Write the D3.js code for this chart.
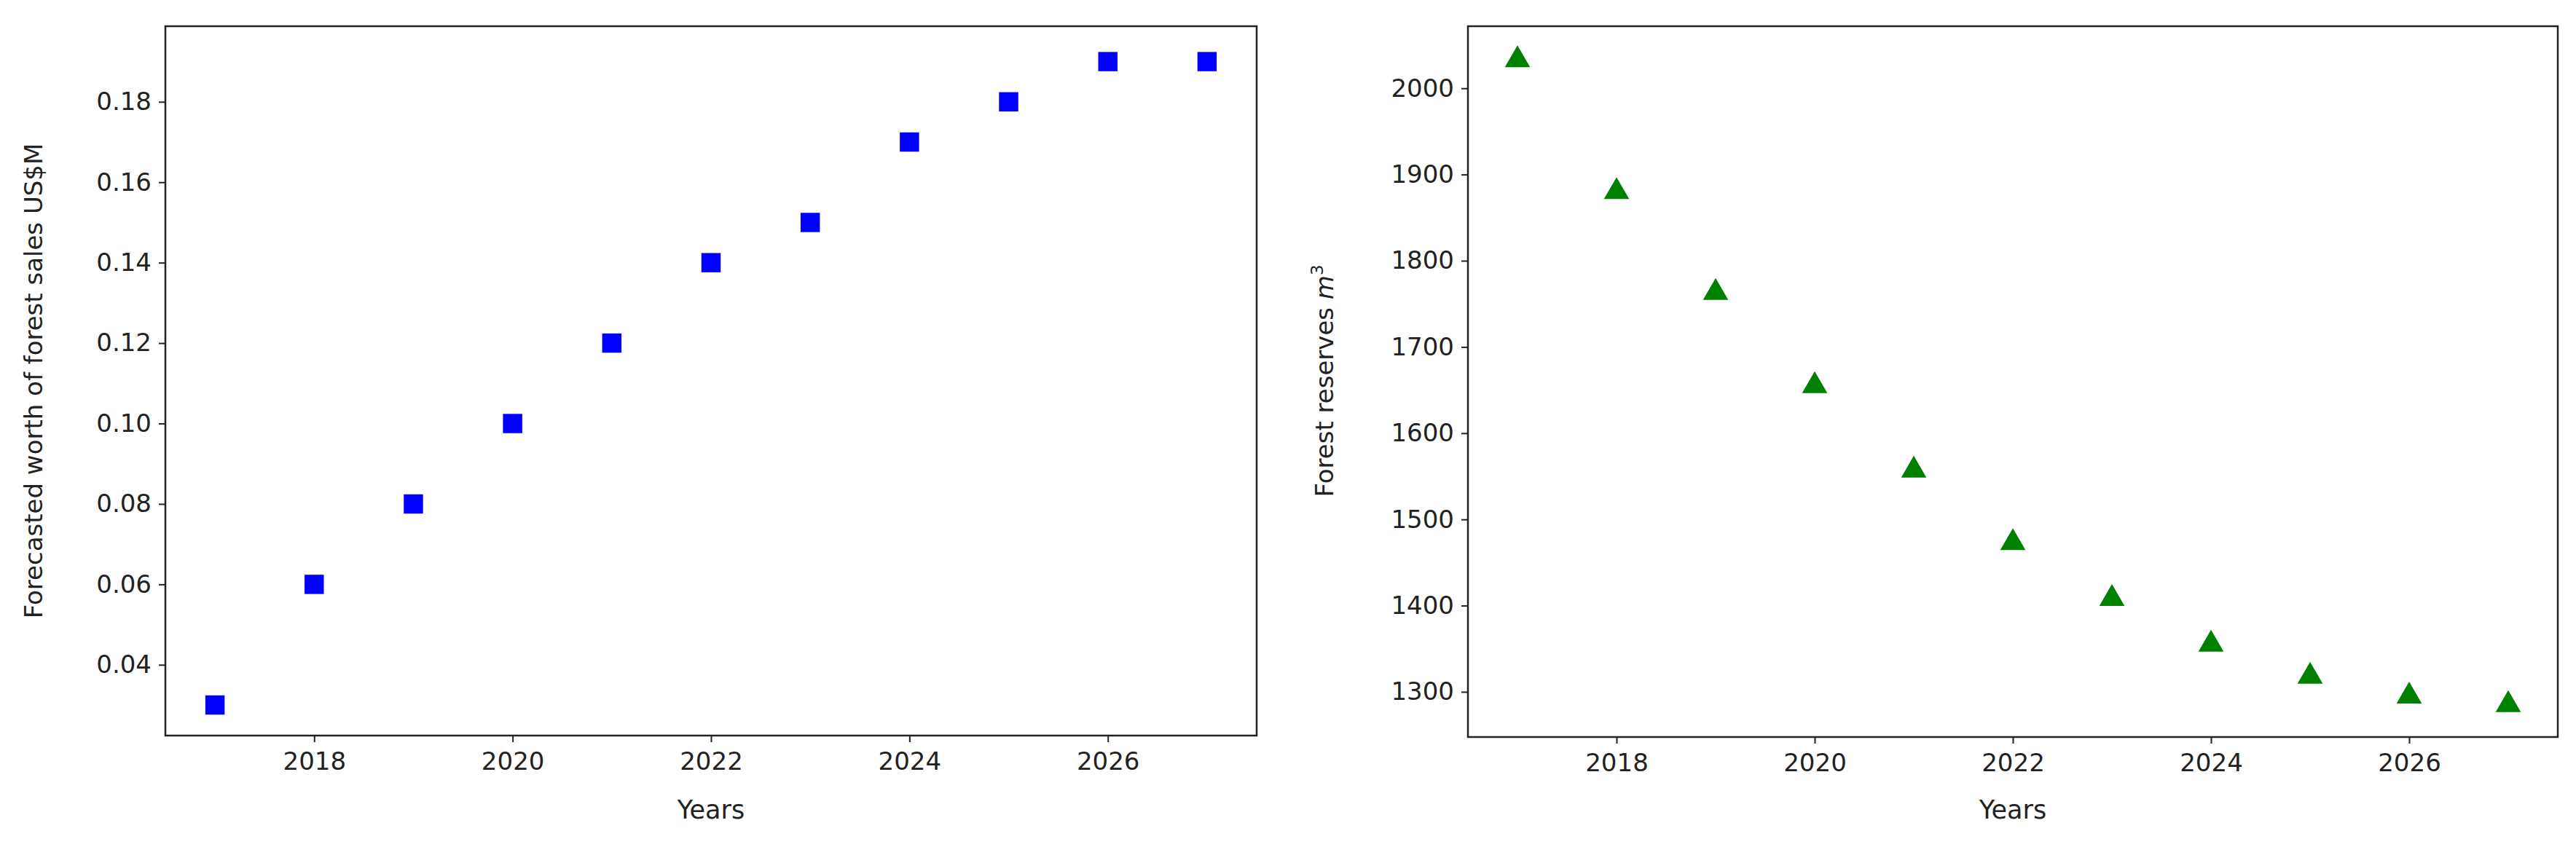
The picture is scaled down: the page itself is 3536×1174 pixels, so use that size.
<!DOCTYPE html>
<html><head><meta charset="utf-8">
<script src="https://cdn.jsdelivr.net/npm/d3@7"></script>
<style>body{margin:0;background:#fff}text{font-family:"DejaVu Sans",sans-serif}</style>
</head><body><div id="chart"></div>
<script>
const years = [2017, 2018, 2019, 2020, 2021, 2022, 2023, 2024, 2025, 2026, 2027];
const sales = [0.03, 0.06, 0.08, 0.10, 0.12, 0.14, 0.15, 0.17, 0.18, 0.19, 0.19];
const reserves = [2033, 1880, 1763, 1655, 1557, 1473, 1408, 1355, 1318, 1295, 1285];
const xTicks = [2018, 2020, 2022, 2024, 2026];
const salesTicks = [0.04, 0.06, 0.08, 0.10, 0.12, 0.14, 0.16, 0.18];
const reserveTicks = [1300, 1400, 1500, 1600, 1700, 1800, 1900, 2000];

const W = 3536, H = 1174;
const svg = d3.select("#chart").append("svg").attr("width", W).attr("height", H);

function panel(left, right, top, bottom, yDomain, yTicks, fmt, vals, marker, color) {
  const x = d3.scaleLinear().domain([2016.5, 2027.5]).range([left, right]);
  const y = d3.scaleLinear().domain(yDomain).range([bottom, top]);
  const g = svg.append("g");
  g.append("g").attr("transform", `translate(0,${bottom})`)
    .call(d3.axisBottom(x).tickValues(xTicks).tickFormat(d3.format("d")).tickSize(9).tickPadding(14));
  g.append("g").attr("transform", `translate(${left},0)`)
    .call(d3.axisLeft(y).tickValues(yTicks).tickFormat(fmt).tickSize(9).tickPadding(10));
  g.selectAll(".domain").remove();
  g.selectAll(".tick line").attr("stroke", "#222").attr("stroke-width", 2);
  g.selectAll(".tick text").attr("font-size", 34).attr("fill", "#222");
  g.append("rect").attr("x", left).attr("y", top).attr("width", right - left).attr("height", bottom - top)
    .attr("fill", "none").attr("stroke", "#222").attr("stroke-width", 2.5);
  g.selectAll("path.pt").data(vals).join("path").attr("class", "pt")
    .attr("transform", (d, i) => `translate(${x(years[i])},${y(d)})`)
    .attr("d", d3.symbol(marker, marker === d3.symbolSquare ? 700 : 520)())
    .attr("fill", color);
  g.append("text").attr("x", (left + right) / 2).attr("y", 1124).attr("text-anchor", "middle")
    .attr("font-size", 35).attr("fill", "#222").text("Years");
  return g;
}

const g1 = panel(227, 1725, 36, 1010, [0.0224, 0.1988], salesTicks, d3.format(".2f"), sales, d3.symbolSquare, "#0000ff");
g1.append("text").attr("transform", "translate(58,523) rotate(-90)").attr("text-anchor", "middle")
  .attr("font-size", 34).attr("fill", "#222").text("Forecasted worth of forest sales US$M");

const g2 = panel(2015, 3511, 36, 1012, [1247.6, 2072], reserveTicks, d3.format("d"), reserves, d3.symbolTriangle, "#008000");
const t = g2.append("text").attr("transform", "translate(1830,523) rotate(-90)").attr("text-anchor", "middle")
  .attr("font-size", 34).attr("fill", "#222");
t.append("tspan").text("Forest reserves ");
t.append("tspan").attr("font-style", "italic").text("m");
t.append("tspan").attr("font-size", 23).attr("dy", -14).text("3");
</script></body></html>
